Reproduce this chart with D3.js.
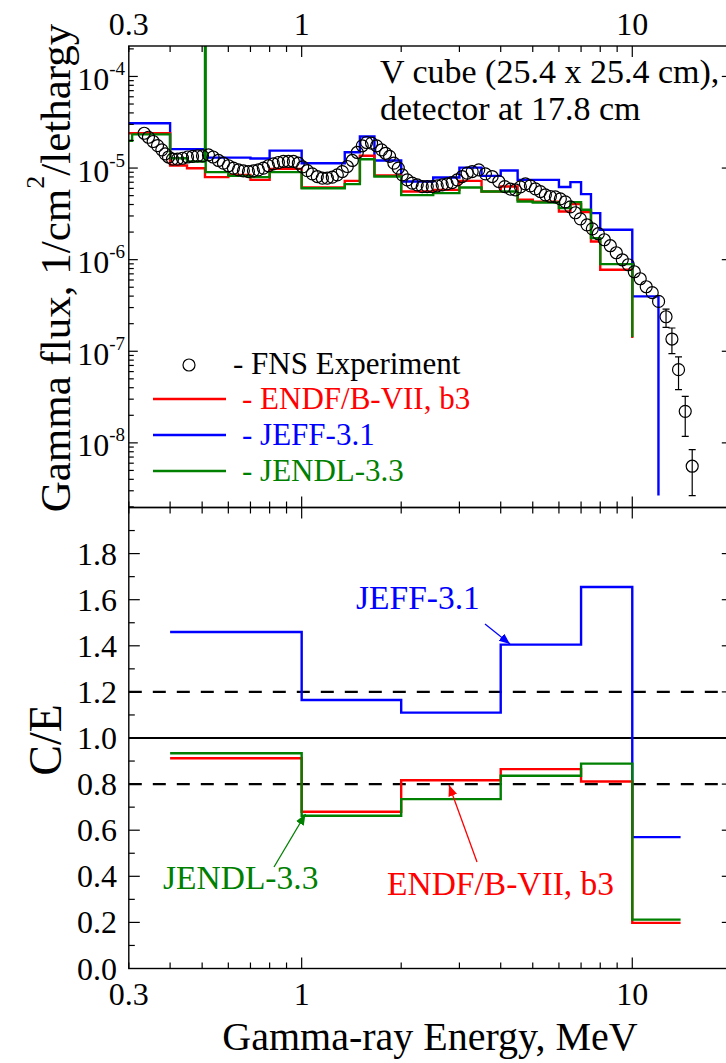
<!DOCTYPE html>
<html><head><meta charset="utf-8">
<script src="https://cdn.jsdelivr.net/npm/d3@7"></script>
<style>
body{margin:0;background:#fff}
svg{display:block}
</style>
</head><body>
<svg id="c" width="726" height="1063"></svg>
<script>
// ---------------- DATA ----------------
// Top panel: calculated spectra (group edges in MeV, flux per group, 1/cm2/lethargy)
const jeffEdges = [0.3,0.4,0.51,0.7,0.8,1.0,1.35,1.5,1.66,2.0,2.5,3.0,3.5,4.0,4.5,6.0,6.5,7.0,7.5,8.0,10,12];
const jeffFlux  = [3.09e-5,1.61e-5,1.30e-5,1.27e-5,1.55e-5,1.13e-5,1.49e-5,2.21e-5,1.21e-5,7.13e-6,7.88e-6,1.01e-5,8.22e-6,9.39e-6,7.43e-6,6.21e-6,7.02e-6,5.19e-6,3.22e-6,2.12e-6,3.97e-7];
const jeffTail  = 2.66e-9;

const endfEdges = [0.3,0.4,0.45,0.51,0.6,0.7,0.8,1.0,1.35,1.5,1.66,2.0,2.5,3.0,3.5,4.0,4.5,5.0,6.0,6.5,7.0,7.5,8.0,10];
const endfFlux  = [2.40e-5,1.065e-5,9.97e-6,7.96e-6,8.43e-6,7.43e-6,9.8e-6,6.13e-6,7.25e-6,1.36e-5,8.3e-6,5.54e-6,5.78e-6,7.25e-6,5.54e-6,6.28e-6,4.50e-6,4.28e-6,3.35e-6,4.04e-6,3.30e-6,1.58e-6,7.76e-7];
const endfTail  = 1.40e-7;

const jendlEdges = [0.3,0.307,0.4,0.45,0.51,0.5125,0.6,0.7,0.8,1.0,1.35,1.5,1.66,2.0,2.5,3.0,3.5,4.5,5.0,6.0,6.5,7.0,7.5,8.0,10];
const jendlFlux  = [1.98e-5,2.33e-5,1.28e-5,1.18e-5,5e-4,9.02e-6,8.22e-6,7.96e-6,9.02e-6,6.03e-6,6.67e-6,1.25e-5,8.08e-6,5.06e-6,5.32e-6,6.13e-6,5.54e-6,4.31e-6,4.20e-6,3.65e-6,4.25e-6,3.50e-6,1.72e-6,8.95e-7];
const jendlTail  = 1.43e-7;

// FNS experiment
const expE = [0.334,0.344,0.3555,0.3665,0.3776,0.3864,0.3957,0.4068,0.4211,0.436,
  0.4516,0.4676,0.4842,0.5012,0.5225,0.5395,0.5602,0.58,0.6005,0.6217,
  0.6437,0.6665,0.6902,0.7146,0.7399,0.7661,0.7932,0.8213,0.8504,0.8805,
  0.9116,0.9439,0.9773,1.007,1.04,1.077,1.115,1.155,1.196,1.238,
  1.282,1.327,1.374,1.423,1.473,1.525,1.572,1.627,1.685,1.745,
  1.794,1.845,1.901,1.96,2.015,2.086,2.16,2.236,2.316,2.398,
  2.483,2.57,2.661,2.755,2.853,2.954,3.058,3.167,3.279,3.433,
  3.596,3.768,3.947,4.114,4.28,4.431,4.588,4.751,4.918,5.093,
  5.273,5.46,5.653,5.853,6.06,6.275,6.497,6.727,6.965,7.297,
  7.572,7.895,8.231,8.582,8.948,9.328,9.725,10.14,10.57,11.02,
  11.49,12.01,12.65,13.18,13.8,14.46,15.18];
const expFlux = [2.40e-5,2.17e-5,1.95e-5,1.76e-5,1.58e-5,1.43e-5,1.32e-5,1.25e-5,1.25e-5,1.28e-5,
  1.32e-5,1.34e-5,1.36e-5,1.36e-5,1.39e-5,1.32e-5,1.21e-5,1.13e-5,1.06e-5,9.97e-6,
  9.56e-6,9.32e-6,9.16e-6,9.32e-6,9.56e-6,9.97e-6,1.06e-5,1.11e-5,1.15e-5,1.18e-5,
  1.18e-5,1.18e-5,1.13e-5,1.03e-5,9.39e-6,8.64e-6,8.08e-6,7.76e-6,7.76e-6,7.96e-6,
  8.43e-6,9.16e-6,1.04e-5,1.21e-5,1.48e-5,1.75e-5,1.90e-5,1.87e-5,1.75e-5,1.58e-5,
  1.45e-5,1.34e-5,1.13e-5,9.97e-6,8.43e-6,7.43e-6,6.84e-6,6.56e-6,6.28e-6,6.28e-6,
  6.28e-6,6.39e-6,6.56e-6,6.73e-6,6.95e-6,7.43e-6,8.08e-6,8.80e-6,9.16e-6,9.56e-6,
  8.64e-6,8.08e-6,7.13e-6,6.28e-6,5.89e-6,5.78e-6,6.24e-6,6.73e-6,6.39e-6,5.93e-6,
  5.54e-6,5.10e-6,4.89e-6,4.85e-6,4.61e-6,4.28e-6,3.77e-6,3.25e-6,2.79e-6,2.40e-6,
  2.17e-6,1.92e-6,1.65e-6,1.42e-6,1.19e-6,9.97e-7,8.80e-7,7.38e-7,6.19e-7,5.06e-7,
  4.36e-7,3.50e-7,2.38e-7,1.36e-7,6.30e-8,2.21e-8,5.56e-9];
const errE  = [12.65,13.18,13.8,14.46,15.18];
const errLo = [1.82e-7,9.41e-8,3.81e-8,1.18e-8,2.66e-9];
const errHi = [2.89e-7,1.795e-7,8.67e-8,3.22e-8,8.45e-9];

// Bottom panel: C/E ratios
const ceEdges = [0.4,1,2,4,7,10,14];
const ceJEFF  = [1.46,1.165,1.11,1.405,1.655,0.57];
const ceENDF  = [0.912,0.680,0.817,0.865,0.811,0.198];
const ceJENDL = [0.934,0.663,0.735,0.836,0.889,0.212];

const xTickLabels = [0.3,1,10];
const ceTickLabels = [0,0.2,0.4,0.6,0.8,1.0,1.2,1.4,1.6,1.8];
const fluxTickLabels = [1e-4,1e-5,1e-6,1e-7,1e-8];

// ---------------- LAYOUT ----------------
const FF = "'Liberation Serif', 'Times New Roman', Times, serif";
const L=128.8, R=731.8, T=46, M=507.5, B=968.5;
const RED="#ff0000", BLUE="#0000ff", GREEN="#008000";
const svg = d3.select("#c");
const x  = d3.scaleLog().domain([0.3,20]).range([L,R]);
const yT = d3.scaleLog().domain([1.97e-9,2.15e-4]).range([M,T]);
const yB = d3.scaleLinear().domain([0,2]).range([B,M]);

const defs = svg.append("defs");
defs.append("clipPath").attr("id","clipT").append("rect").attr("x",L).attr("y",T).attr("width",R-L).attr("height",M-T);
defs.append("clipPath").attr("id","clipB").append("rect").attr("x",L).attr("y",M).attr("width",R-L).attr("height",B-M);
[["aB",BLUE],["aR",RED],["aG",GREEN]].forEach(([id,c])=>{
  defs.append("marker").attr("id",id).attr("markerUnits","userSpaceOnUse")
    .attr("markerWidth",12).attr("markerHeight",10).attr("refX",11).attr("refY",4.5)
    .attr("orient","auto").append("path").attr("d","M0,0 L11,4.5 L0,9 Z").attr("fill",c);
});

function stepPts(edges, vals, tail){
  const p = edges.slice(0,-1).map((e,i)=>[e, vals[i]]);
  p.push([edges[edges.length-1], tail===undefined ? vals[vals.length-1] : tail]);
  return p;
}
function T_(sel,xx,yy,size,str,color,anchor,rot){
  const g = sel.append("g").attr("transform",`translate(${xx},${yy})${rot?` rotate(${rot})`:""}`);
  return g.append("text").attr("x",0).attr("y",0).style("font-family",FF).attr("font-size",size)
    .attr("fill",color||"#000").attr("text-anchor",anchor||"start").text(str);
}

// ---------- TOP PANEL ----------
const gT = svg.append("g").attr("clip-path","url(#clipT)");
const lineT = d3.line().x(d=>x(d[0])).y(d=>yT(d[1])).curve(d3.curveStepAfter);
[[jeffEdges,jeffFlux,jeffTail,BLUE],[endfEdges,endfFlux,endfTail,RED],[jendlEdges,jendlFlux,jendlTail,GREEN]]
.forEach(([e,v,t,c])=>{
  gT.append("path").attr("d",lineT(stepPts(e,v,t))).attr("fill","none")
    .attr("stroke",c).attr("stroke-width",2.4);
});
errE.forEach((e,i)=>{
  const xx=x(e);
  gT.append("line").attr("x1",xx).attr("x2",xx).attr("y1",yT(errLo[i])).attr("y2",yT(errHi[i]))
    .attr("stroke","#000").attr("stroke-width",1.2);
  [errLo[i],errHi[i]].forEach(v=>{
    gT.append("line").attr("x1",xx-3.5).attr("x2",xx+3.5).attr("y1",yT(v)).attr("y2",yT(v))
      .attr("stroke","#000").attr("stroke-width",1.2);
  });
});
expE.forEach((e,i)=>{
  gT.append("circle").attr("cx",x(e)).attr("cy",yT(expFlux[i])).attr("r",6)
    .attr("fill","none").attr("stroke","#000").attr("stroke-width",1.2);
});

// ---------- BOTTOM PANEL ----------
const gB = svg.append("g").attr("clip-path","url(#clipB)");
gB.append("line").attr("x1",L).attr("x2",R).attr("y1",yB(1)).attr("y2",yB(1)).attr("stroke","#000").attr("stroke-width",2.2);
[1.2,0.8].forEach(v=>{
  gB.append("line").attr("x1",L).attr("x2",R).attr("y1",yB(v)).attr("y2",yB(v))
    .attr("stroke","#000").attr("stroke-width",2.2).attr("stroke-dasharray","13,11");
});
const lineB = d3.line().x(d=>x(d[0])).y(d=>yB(d[1])).curve(d3.curveStepAfter);
[[ceJEFF,BLUE],[ceENDF,RED],[ceJENDL,GREEN]].forEach(([v,c])=>{
  gB.append("path").attr("d",lineB(stepPts(ceEdges,v))).attr("fill","none")
    .attr("stroke",c).attr("stroke-width",2.4);
});

// ---------- FRAMES & TICKS ----------
const ax = svg.append("g").attr("stroke","#000").attr("stroke-width",1.4);
ax.append("rect").attr("x",L).attr("y",T).attr("width",R-L).attr("height",M-T).attr("fill","none");
ax.append("rect").attr("x",L).attr("y",M).attr("width",R-L).attr("height",B-M).attr("fill","none");
function tk(x1,y1,x2,y2){ ax.append("line").attr("x1",x1).attr("y1",y1).attr("x2",x2).attr("y2",y2).attr("stroke-width",1.2); }
x.ticks().forEach(t=>{
  const xx=x(t); const major = Math.abs(Math.log10(t)-Math.round(Math.log10(t)))<1e-9;
  const len = major?11:6;
  tk(xx,T,xx,T+len); tk(xx,M,xx,M-len); tk(xx,M,xx,M+len); tk(xx,B,xx,B-len);
});
yT.ticks().forEach(t=>{
  const yy=yT(t); if(yy<T-0.5||yy>M+0.5) return;
  const major = Math.abs(Math.log10(t)-Math.round(Math.log10(t)))<1e-9;
  tk(L,yy,L+(major?9:5),yy);
  if(major) tk(R,yy,R-10,yy);
});
d3.range(1,20).forEach(k=>{
  const v=k/10, yy=yB(v), major = k%2===0;
  tk(L,yy,L+(major?11:6),yy);
  if(major) tk(R,yy,R-10,yy);
});

// ---------- TEXT ----------
const txt = svg.append("g");
xTickLabels.forEach(t=>{
  T_(txt,x(t),35,32,String(t),"#000","middle");
  T_(txt,x(t),1005,32,String(t),"#000","middle");
});
fluxTickLabels.forEach(t=>{
  const yy=yT(t);
  const tx = T_(txt,125,yy+13.5,32,"","#000","end");
  tx.append("tspan").text("10");
  tx.append("tspan").attr("font-size",19).attr("dy",-15).text(String(Math.round(Math.log10(t))));
});
ceTickLabels.forEach(t=>{ T_(txt,117,yB(t)+11,32,t.toFixed(1),"#000","end"); });

const yt = T_(txt,70,268,43,"","#000","middle",-90);
yt.append("tspan").text("Gamma flux, 1/cm");
yt.append("tspan").attr("font-size",26).attr("dy",-26).text("2");
yt.append("tspan").attr("dy",26).text("/lethargy");
T_(txt,61,740,46,"C/E","#000","middle",-90);
T_(txt,430,1050,40,"Gamma-ray Energy, MeV","#000","middle");

T_(txt,380,83,34,"V cube (25.4 x 25.4 cm),");
T_(txt,380,120,34,"detector at 17.8 cm");

// legend
svg.append("circle").attr("cx",189).attr("cy",365).attr("r",6).attr("fill","none").attr("stroke","#000").attr("stroke-width",1.2);
T_(txt,233,374,31,"- FNS Experiment");
[["- ENDF/B-VII, b3",RED,399],["- JEFF-3.1",BLUE,435],["- JENDL-3.3",GREEN,471]].forEach(([s,c,yy])=>{
  svg.append("line").attr("x1",153).attr("x2",226).attr("y1",yy).attr("y2",yy).attr("stroke",c).attr("stroke-width",2.4);
  T_(txt,242,yy+10,31,s,c);
});

// bottom annotations with arrows
T_(txt,356,609,33.5,"JEFF-3.1",BLUE);
svg.append("line").attr("x1",485).attr("y1",624).attr("x2",510).attr("y2",644).attr("stroke",BLUE).attr("stroke-width",1.3).attr("marker-end","url(#aB)");
T_(txt,163,889,33.5,"JENDL-3.3",GREEN);
svg.append("line").attr("x1",274).attr("y1",867).attr("x2",305.5).attr("y2",814).attr("stroke",GREEN).attr("stroke-width",1.3).attr("marker-end","url(#aG)");
T_(txt,387,895,33.5,"ENDF/B-VII, b3",RED);
svg.append("line").attr("x1",477).attr("y1",862).attr("x2",449).attr("y2",785).attr("stroke",RED).attr("stroke-width",1.3).attr("marker-end","url(#aR)");
</script>
</body></html>
